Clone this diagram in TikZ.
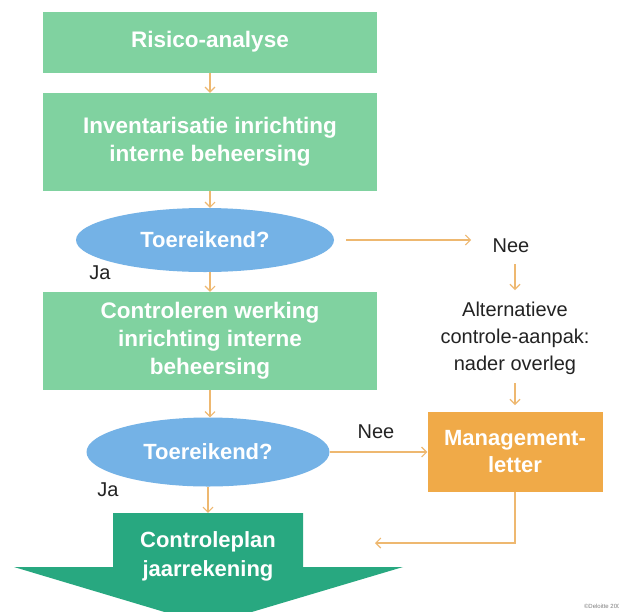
\documentclass[tikz,border=0pt]{standalone}
\usepackage{fontspec}
\setmainfont{Liberation Sans}
\usepackage{tikz}
\usetikzlibrary{shapes.geometric, arrows.meta}
\usepackage{xcolor}

\definecolor{boxgreen}{RGB}{128,210,160}
\definecolor{ellblue}{RGB}{116,178,230}
\definecolor{mgmtorange}{RGB}{240,170,72}
\definecolor{plangreen}{RGB}{40,168,128}
\definecolor{lineorange}{RGB}{238,184,112}
\definecolor{labelgray}{RGB}{35,35,35}

\begin{document}
\begin{tikzpicture}[x=1pt, y=-1pt,
    stepbox/.style={rectangle, fill=boxgreen, text=white, align=center,
        font=\fontsize{22.5}{28}\selectfont\bfseries,
        minimum width=334pt, inner sep=0pt},
    question/.style={ellipse, fill=ellblue, text=white, inner sep=0pt,
        font=\fontsize{22}{28}\selectfont\bfseries},
    answer/.style={text=labelgray, font=\fontsize{20}{27}\selectfont, align=center},
    arr/.style={-{Straight Barb[length=5pt, width=10pt]}, draw=lineorange, line width=1.1pt}]
    \useasboundingbox[fill=white] (0,0) rectangle (619,611);

    % Main chain
    \node[stepbox, minimum height=61pt] (risk) at (210,42) {Risico-analyse};
    \node[stepbox, minimum height=98pt] (inv) at (210,142)
        {Inventarisatie inrichting\\interne beheersing};
    \node[question, minimum width=258pt, minimum height=64pt] (ok1) at (205,240) {Toereikend?};
    \node[stepbox, minimum height=98pt] (work) at (210,341)
        {Controleren werking\\inrichting interne\\beheersing};
    \node[question, minimum width=243pt, minimum height=69pt] (ok2) at (208,452) {Toereikend?};

    % Big arrow at the bottom
    \fill[plangreen] (113,513) -- (303,513) -- (303,567) -- (403,567)
        -- (208,625) -- (14,567) -- (113,567) -- cycle;
    \node[rectangle, minimum width=190pt, minimum height=86pt, inner sep=0pt,
        text=white, align=center, font=\fontsize{22}{29}\selectfont\bfseries]
        (plan) at (208,556) {Controleplan\\jaarrekening};

    \draw[arr] (risk) -- (inv);
    \draw[arr] (inv.south) -- (inv.south |- ok1.north);
    \draw[arr] (ok1.south -| work.north) -- (work);
    \draw[arr] (work) -- (ok2.north -| work.south);
    \draw[arr] (ok2.south -| plan.north) -- (plan);

    \node[answer] (ja1) at (100,273) {Ja};
    \node[answer] (ja2) at (108,490) {Ja};

    % Side branch
    \node[answer] (nee1) at (511,246) {Nee};
    \node[answer] (alt) at (515,338) {Alternatieve\\controle-aanpak:\\nader overleg};
    \node[rectangle, fill=mgmtorange, text=white, align=center,
        minimum width=175pt, minimum height=80pt, inner sep=0pt,
        font=\fontsize{22}{27}\selectfont\bfseries] (mgmt) at (515,452) {Management-\\letter};
    \node[answer] (nee2) at (376,432) {Nee};
    \coordinate (back) at (375,543);

    \draw[arr, shorten <=12pt, shorten >=18pt] (ok1.east) -- (ok1.east -| nee1.west);
    \draw[arr] (515,264) -- (515,290);
    \draw[arr] (515,383) -- (515,405);
    \draw[arr] (ok2.east) -- (mgmt.west |- ok2.east);
    \draw[arr] (mgmt.south) |- (back);

    \node[text=gray, font=\fontsize{6}{7}\selectfont, anchor=east] (copy) at (624,606) {©Deloitte 200};
\end{tikzpicture}
\end{document}
